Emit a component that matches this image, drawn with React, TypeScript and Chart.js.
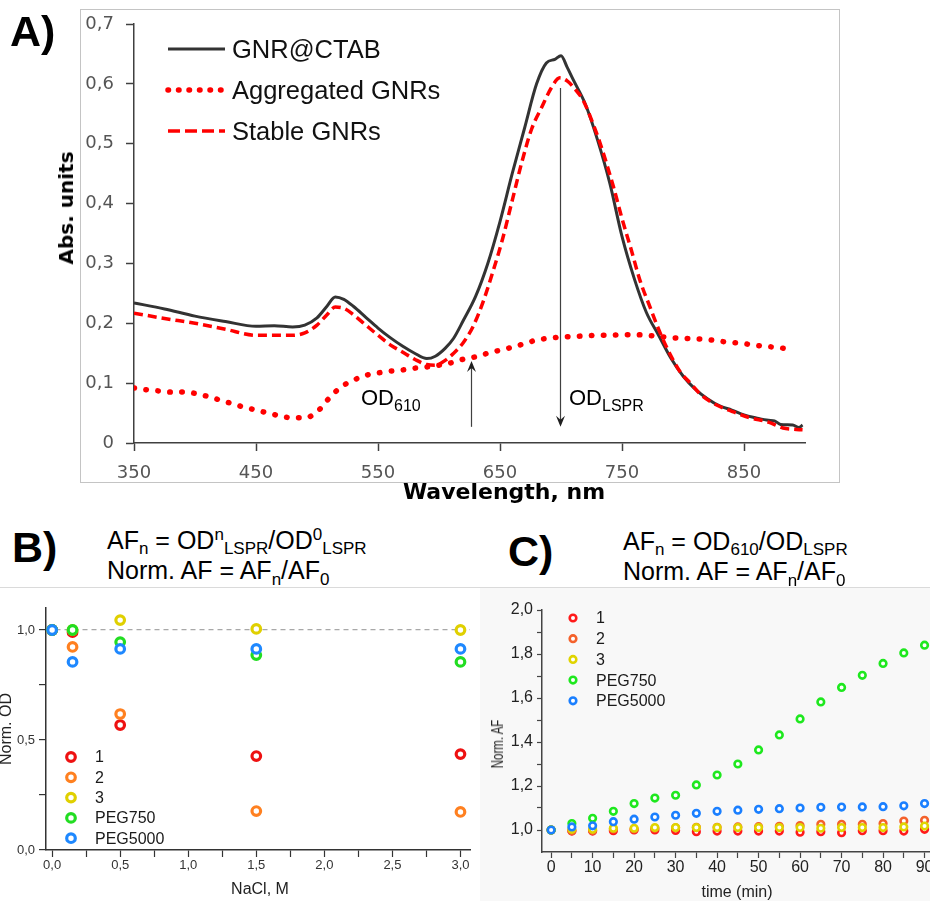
import React, { useEffect, useRef } from 'react';
import { Chart, registerables } from 'chart.js';

Chart.register(...registerables);

const SANS = "'Liberation Sans', Arial, sans-serif";
const WIDE = "'DejaVu Sans', sans-serif";

// ---------- Panel A : spectra ----------
const ctabNm = [350,375,400,425,450,465,480,490,500,508,515,522,530,540,550,560,570,580,590,597,605,612,620,630,640,650,660,670,680,688,695,700,705,710,720,730,740,750,760,770,780,790,800,810,820,830,840,850,860,870,875,880,890,895,898];
const ctabAbs = [0.234,0.224,0.212,0.203,0.195,0.196,0.194,0.197,0.209,0.228,0.244,0.240,0.228,0.210,0.192,0.176,0.162,0.150,0.141,0.145,0.158,0.175,0.205,0.245,0.300,0.370,0.450,0.525,0.600,0.635,0.641,0.647,0.628,0.607,0.566,0.506,0.434,0.345,0.275,0.218,0.180,0.142,0.112,0.090,0.074,0.062,0.055,0.047,0.042,0.038,0.037,0.031,0.030,0.026,0.030];

const stableNm = [350,375,400,425,450,465,480,490,500,508,515,522,530,540,550,560,570,580,590,597,605,612,620,628,636,644,652,660,668,676,684,692,699,705,712,718,725,732,743,750,757,765,773,780,789,798,806,815,828,840,855,870,882,890,898];
const stableAbs = [0.217,0.208,0.200,0.190,0.180,0.180,0.180,0.184,0.197,0.214,0.227,0.225,0.214,0.197,0.180,0.164,0.152,0.140,0.131,0.130,0.138,0.150,0.168,0.195,0.235,0.285,0.340,0.405,0.470,0.525,0.560,0.593,0.610,0.605,0.590,0.573,0.540,0.501,0.428,0.375,0.327,0.270,0.227,0.190,0.150,0.118,0.100,0.080,0.063,0.053,0.042,0.035,0.025,0.023,0.022];

const aggNm = [350,360,370,380,390,400,410,420,430,440,450,460,470,480,490,500,510,520,530,540,550,560,570,580,590,600,610,620,630,640,650,660,670,680,690,700,710,720,730,740,750,760,770,780,790,800,810,820,830,840,850,860,870,880,890];
const aggAbs = [0.092,0.089,0.087,0.085,0.085,0.083,0.078,0.072,0.066,0.060,0.055,0.050,0.045,0.042,0.042,0.052,0.075,0.094,0.105,0.113,0.117,0.120,0.122,0.125,0.127,0.130,0.134,0.140,0.144,0.150,0.155,0.160,0.166,0.172,0.175,0.177,0.178,0.179,0.180,0.180,0.181,0.181,0.180,0.178,0.176,0.175,0.174,0.173,0.170,0.168,0.166,0.163,0.161,0.159,0.155];

const aLabelsSeries = ['GNR@CTAB', 'Aggregated GNRs', 'Stable GNRs'];
const aTicksX = [350, 450, 550, 650, 750, 850];
const aLabelsX = ['350', '450', '550', '650', '750', '850'];
const aTicksY = [0, 0.1, 0.2, 0.3, 0.4, 0.5, 0.6, 0.7];
const aLabelsY = ['0', '0,1', '0,2', '0,3', '0,4', '0,5', '0,6', '0,7'];
const aArrows = [
  { nm: 626, from: 0.027, to: 0.137 },
  { nm: 699, from: 0.593, to: 0.027 },
];

// ---------- Panel B : NaCl ----------
const seriesNames = ['1', '2', '3', 'PEG750', 'PEG5000'];
const naclM = [0, 0.15, 0.5, 1.5, 3.0];
const bS1 = [1.0, 0.99, 0.568, 0.427, 0.436];
const bS2 = [1.0, 0.923, 0.618, 0.177, 0.173];
const bS3 = [1.0, 1.0, 1.045, 1.005, 1.0];
const bPeg750 = [1.0, 1.0, 0.945, 0.886, 0.855];
const bPeg5000 = [1.0, 0.855, 0.914, 0.914, 0.914];
const bTicksX = [0, 0.25, 0.5, 0.75, 1.0, 1.25, 1.5, 1.75, 2.0, 2.25, 2.5, 2.75, 3.0];
const bLabelsX = ['0,0', '', '0,5', '', '1,0', '', '1,5', '', '2,0', '', '2,5', '', '3,0'];
const bTicksY = [0, 0.25, 0.5, 0.75, 1.0];
const bLabelsY = ['0,0', '', '0,5', '', '1,0'];

// ---------- Panel C : time ----------
const timeMin = [0, 5, 10, 15, 20, 25, 30, 35, 40, 45, 50, 55, 60, 65, 70, 75, 80, 85, 90];
const cS1 = [1.0, 0.995, 0.995, 0.997, 1.0, 1.0, 0.998, 0.992, 0.995, 0.995, 0.995, 0.995, 0.99, 0.992, 0.988, 0.997, 0.997, 0.995, 1.003];
const cS2 = [1.0, 0.997, 0.998, 1.005, 1.005, 1.008, 1.01, 1.012, 1.012, 1.014, 1.015, 1.017, 1.02, 1.026, 1.026, 1.026, 1.029, 1.041, 1.044];
const cS3 = [1.0, 1.003, 1.003, 1.008, 1.008, 1.011, 1.011, 1.011, 1.011, 1.011, 1.011, 1.011, 1.011, 1.008, 1.011, 1.011, 1.011, 1.014, 1.018];
const cPeg750 = [1.0, 1.029, 1.053, 1.085, 1.12, 1.145, 1.158, 1.205, 1.25, 1.3, 1.364, 1.432, 1.505, 1.582, 1.648, 1.703, 1.757, 1.805, 1.84];
const cPeg5000 = [1.0, 1.014, 1.019, 1.038, 1.049, 1.059, 1.067, 1.076, 1.085, 1.09, 1.094, 1.097, 1.1, 1.103, 1.104, 1.105, 1.106, 1.11, 1.12];
const cTicksX = [0, 5, 10, 15, 20, 25, 30, 35, 40, 45, 50, 55, 60, 65, 70, 75, 80, 85, 90];
const cLabelsX = ['0', '', '10', '', '20', '', '30', '', '40', '', '50', '', '60', '', '70', '', '80', '', '90'];
const cTicksY = [1.0, 1.1, 1.2, 1.3, 1.4, 1.5, 1.6, 1.7, 1.8, 1.9, 2.0];
const cLabelsY = ['1,0', '', '1,2', '', '1,4', '', '1,6', '', '1,8', '', '2,0'];

const bColors = ['#ee1111', '#ff8020', '#e0d000', '#22dd22', '#1e88ff'];
const cColors = ['#ff1a1a', '#f4612b', '#e0d400', '#1ee81e', '#1a7fff'];

const pts = (xs: number[], ys: number[]) => xs.map((x, i) => ({ x, y: ys[i] }));

const fixedTicks = (values: number[], labels: string[]) => ({
  afterBuildTicks: (scale: any) => {
    scale.ticks = values.map((v) => ({ value: v }));
  },
  callback: (_v: any, i: number) => labels[i] ?? '',
});

// ---------- plugins ----------
const lineLegend = {
  id: 'lineLegend',
  afterDatasetsDraw(chart: any, _a: any, opts: any) {
    const ctx = chart.ctx;
    chart.data.datasets.forEach((ds: any, i: number) => {
      const y = opts.rows[i];
      ctx.save();
      ctx.strokeStyle = ds.borderColor;
      ctx.lineWidth = ds.legendWidth ?? ds.borderWidth;
      ctx.setLineDash(ds.legendDash ?? ds.borderDash ?? []);
      ctx.lineCap = ds.borderCapStyle ?? 'butt';
      ctx.beginPath();
      ctx.moveTo(opts.x0, y);
      ctx.lineTo(opts.x1, y);
      ctx.stroke();
      ctx.setLineDash([]);
      ctx.fillStyle = '#111';
      ctx.font = opts.font;
      ctx.textBaseline = 'alphabetic';
      ctx.textAlign = 'left';
      ctx.fillText(ds.label, opts.textX, y + opts.baseOff);
      ctx.restore();
    });
  },
};

const arrowPlugin = {
  id: 'arrows',
  afterDatasetsDraw(chart: any, _a: any, opts: any) {
    const ctx = chart.ctx;
    const xs = chart.scales.x;
    const ys = chart.scales.y;
    (opts.items || []).forEach((a: any) => {
      const px = Math.round(xs.getPixelForValue(a.nm)) + 0.5;
      const p1 = ys.getPixelForValue(a.from);
      const p2 = ys.getPixelForValue(a.to);
      const back = p2 < p1 ? 1 : -1;
      ctx.save();
      ctx.strokeStyle = '#404040';
      ctx.fillStyle = '#202020';
      ctx.lineWidth = 1.2;
      ctx.beginPath();
      ctx.moveTo(px, p1);
      ctx.lineTo(px, p2 + back * 5);
      ctx.stroke();
      ctx.beginPath();
      ctx.moveTo(px, p2);
      ctx.lineTo(px - 4.5, p2 + back * 11);
      ctx.lineTo(px, p2 + back * 7);
      ctx.lineTo(px + 4.5, p2 + back * 11);
      ctx.closePath();
      ctx.fill();
      ctx.restore();
    });
  },
};

const ringLegend = {
  id: 'ringLegend',
  afterDatasetsDraw(chart: any, _a: any, opts: any) {
    const ctx = chart.ctx;
    ctx.save();
    chart.data.datasets.forEach((ds: any, i: number) => {
      const y = opts.y0 + i * opts.dy;
      ctx.beginPath();
      ctx.arc(opts.x, y, opts.r, 0, Math.PI * 2);
      ctx.fillStyle = '#ffffff';
      ctx.fill();
      ctx.lineWidth = opts.lw;
      ctx.strokeStyle = ds.borderColor;
      ctx.stroke();
      ctx.fillStyle = '#1a1a1a';
      ctx.font = opts.font;
      ctx.textBaseline = 'middle';
      ctx.textAlign = 'left';
      ctx.fillText(ds.label, opts.textX, y + 1);
    });
    ctx.restore();
  },
};

// ---------- configs ----------
function configA(): any {
  const fx = fixedTicks(aTicksX, aLabelsX);
  const fy = fixedTicks(aTicksY, aLabelsY);
  const axisCol = '#404040';
  return {
    type: 'line',
    data: {
      datasets: [
        { label: aLabelsSeries[0], data: pts(ctabNm, ctabAbs), borderColor: '#333333', borderWidth: 3, pointRadius: 0, cubicInterpolationMode: 'monotone', order: 3, fill: false },
        { label: aLabelsSeries[1], data: pts(aggNm, aggAbs), borderColor: '#ff0000', borderWidth: 5.5, borderDash: [0.5, 11.5], borderCapStyle: 'round', legendDash: [0.5, 10], pointRadius: 0, cubicInterpolationMode: 'monotone', order: 1, fill: false },
        { label: aLabelsSeries[2], data: pts(stableNm, stableAbs), borderColor: '#ff0000', borderWidth: 3.5, borderDash: [9, 5], legendDash: [12, 5], pointRadius: 0, cubicInterpolationMode: 'monotone', order: 2, fill: false },
      ],
    },
    options: {
      responsive: false,
      animation: false,
      events: [],
      layout: { padding: { left: 0, top: 24, right: 125, bottom: 0 } },
      plugins: {
        legend: { display: false },
        tooltip: { enabled: false },
        lineLegend: { x0: 168, x1: 225, rows: [49, 90, 131], textX: 232, baseOff: 9, font: `25.5px ${SANS}` },
        arrows: { items: aArrows },
      },
      scales: {
        x: {
          type: 'linear', min: 350, max: 900,
          afterFit: (s: any) => { s.height = 62; },
          afterBuildTicks: fx.afterBuildTicks,
          grid: { drawOnChartArea: false, tickLength: 8, tickColor: axisCol, tickWidth: 1.5 },
          border: { color: axisCol, width: 1.5 },
          ticks: { callback: fx.callback, autoSkip: false, maxRotation: 0, font: { family: WIDE, size: 18 }, color: '#555555', padding: 12 },
        },
        y: {
          type: 'linear', min: 0, max: 0.7,
          afterFit: (s: any) => { s.width = 134; },
          afterBuildTicks: fy.afterBuildTicks,
          grid: { drawOnChartArea: false, tickLength: 8, tickColor: axisCol, tickWidth: 1.5 },
          border: { color: axisCol, width: 1.5 },
          ticks: { callback: fy.callback, autoSkip: false, font: { family: WIDE, size: 18 }, color: '#555555', padding: 12 },
        },
      },
    },
    plugins: [lineLegend, arrowPlugin],
  };
}

function scatterSets(xs: number[], series: number[][], colors: string[], r: number, bw: number) {
  return series.map((ys, i) => ({
    label: seriesNames[i],
    data: pts(xs, ys),
    borderColor: colors[i],
    pointBorderColor: colors[i],
    backgroundColor: '#ffffff',
    pointBackgroundColor: '#ffffff',
    pointRadius: r,
    pointBorderWidth: bw,
    showLine: false,
    order: 5 - i,
  }));
}

function configB(): any {
  const fx = fixedTicks(bTicksX, bLabelsX);
  const fy = fixedTicks(bTicksY, bLabelsY);
  const axisCol = '#333333';
  return {
    type: 'scatter',
    data: { datasets: scatterSets(naclM, [bS1, bS2, bS3, bPeg750, bPeg5000], bColors, 4.3, 3.2) },
    options: {
      responsive: false,
      animation: false,
      events: [],
      layout: { padding: { left: 0, top: 18, right: 10, bottom: 0 } },
      plugins: {
        legend: { display: false },
        tooltip: { enabled: false },
        ringLegend: { x: 71, y0: 167, dy: 20.3, r: 4.3, lw: 3.2, textX: 95, font: `16px ${SANS}` },
      },
      scales: {
        x: {
          type: 'linear', min: -0.045, max: 3.07,
          afterFit: (s: any) => { s.height = 51; },
          afterBuildTicks: fx.afterBuildTicks,
          grid: { drawOnChartArea: false, tickLength: 7, tickColor: axisCol, tickWidth: 1.2 },
          border: { color: axisCol, width: 1.5 },
          ticks: { callback: fx.callback, autoSkip: false, maxRotation: 0, font: { family: SANS, size: 13 }, color: '#333', padding: 1 },
        },
        y: {
          type: 'linear', min: 0, max: 1.1,
          afterFit: (s: any) => { s.width = 46; },
          afterBuildTicks: fy.afterBuildTicks,
          grid: {
            drawOnChartArea: true,
            color: (c: any) => (c.tick && Math.abs(c.tick.value - 1) < 1e-6 ? '#a8a8a8' : 'rgba(0,0,0,0)'),
            lineWidth: 1.2,
            tickLength: 7, tickColor: axisCol, tickWidth: 1.2,
          },
          border: { color: axisCol, width: 1.5, dash: [5, 4] },
          ticks: { callback: fy.callback, autoSkip: false, font: { family: SANS, size: 13 }, color: '#333', padding: 4 },
        },
      },
    },
    plugins: [ringLegend],
  };
}

function configC(): any {
  const fx = fixedTicks(cTicksX, cLabelsX);
  const fy = fixedTicks(cTicksY, cLabelsY);
  const axisCol = '#444444';
  return {
    type: 'scatter',
    data: { datasets: scatterSets(timeMin, [cS1, cS2, cS3, cPeg750, cPeg5000], cColors, 3.3, 2.6) },
    options: {
      responsive: false,
      animation: false,
      events: [],
      layout: { padding: { left: 0, top: 20, right: 13, bottom: 0 } },
      plugins: {
        legend: { display: false },
        tooltip: { enabled: false },
        ringLegend: { x: 103, y0: 28, dy: 20.7, r: 3.3, lw: 2.6, textX: 126, font: `16px ${SANS}` },
      },
      scales: {
        x: {
          type: 'linear', min: -2.2, max: 93,
          afterFit: (s: any) => { s.height = 49; },
          afterBuildTicks: fx.afterBuildTicks,
          grid: { drawOnChartArea: false, tickLength: 6, tickColor: axisCol, tickWidth: 1.2 },
          border: { color: axisCol, width: 1.5 },
          ticks: { callback: fx.callback, autoSkip: false, maxRotation: 0, font: { family: SANS, size: 16 }, color: '#222', padding: 0 },
        },
        y: {
          type: 'linear', min: 0.9, max: 2.0,
          afterFit: (s: any) => { s.width = 72; },
          afterBuildTicks: fy.afterBuildTicks,
          grid: { drawOnChartArea: false, tickLength: 5, tickColor: axisCol, tickWidth: 1.2 },
          border: { color: axisCol, width: 1.5 },
          ticks: { callback: fy.callback, autoSkip: false, font: { family: SANS, size: 16 }, color: '#222', padding: 4 },
        },
      },
    },
    plugins: [ringLegend],
  };
}

function ChartCanvas({ make, width, height, style }: { make: () => any; width: number; height: number; style?: any }) {
  const ref = useRef<HTMLCanvasElement | null>(null);
  useEffect(() => {
    if (!ref.current) return;
    const chart = new Chart(ref.current, make());
    return () => chart.destroy();
  }, []);
  return <canvas ref={ref} width={width} height={height} style={{ position: 'absolute', left: 0, top: 0, ...style }} />;
}

const abs = (x: number, y: number, extra: any = {}) => ({ position: 'absolute' as const, left: x, top: y, whiteSpace: 'nowrap' as const, lineHeight: 1, ...extra });

const Sub = ({ t, size = 17, dy = 5 }: { t: string; size?: number; dy?: number }) => (
  <span style={{ fontSize: size, position: 'relative', top: dy }}>{t}</span>
);
const Sup = ({ t, size = 17 }: { t: string; size?: number }) => (
  <span style={{ fontSize: size, position: 'relative', top: -9 }}>{t}</span>
);

const Centered = ({ x, y, rotate, squeeze, children, style }: any) => (
  <div
    style={{
      position: 'absolute', left: x, top: y, whiteSpace: 'nowrap', lineHeight: 1,
      transform: `translate(-50%, -50%)${rotate ? ' rotate(-90deg)' : ''}${squeeze ? ` scaleX(${squeeze})` : ''}`,
      ...(style || {}),
    }}
  >
    {children}
  </div>
);

export default function App() {
  return (
    <div style={{ position: 'absolute', left: 0, top: 0, width: 930, height: 901, overflow: 'hidden', background: '#ffffff', fontFamily: SANS, color: '#000' }}>
      {/* Panel A */}
      <div style={{ position: 'absolute', left: 80, top: 9, width: 760, height: 474, boxSizing: 'border-box', border: '1px solid #c4c4c4' }} />
      <ChartCanvas make={configA} width={930} height={505} />
      <div style={abs(10, 10, { fontSize: 43, fontWeight: 'bold', lineHeight: '43px' })}>A)</div>
      <Centered x={66} y={208} rotate style={{ fontFamily: WIDE, fontWeight: 'bold', fontSize: 20 }}>Abs. units</Centered>
      <Centered x={504} y={492} style={{ fontFamily: WIDE, fontWeight: 'bold', fontSize: 22 }}>Wavelength, nm</Centered>
      <div style={abs(361, 387, { fontSize: 22, lineHeight: '22px' })}>OD<Sub t="610" size={16} dy={6} /></div>
      <div style={abs(569, 387, { fontSize: 22, lineHeight: '22px' })}>OD<Sub t="LSPR" size={16} dy={6} /></div>

      {/* separator */}
      <div style={{ position: 'absolute', left: 0, top: 587, width: 930, height: 1, background: '#dadada' }} />

      {/* Panel B */}
      <div style={abs(12, 526, { fontSize: 43, fontWeight: 'bold', lineHeight: '43px' })}>B)</div>
      <div style={abs(107, 528, { fontSize: 25, lineHeight: '25px' })}>
        AF<Sub t="n" /> = OD<Sup t="n" /><Sub t="LSPR" />/OD<Sup t="0" /><Sub t="LSPR" />
      </div>
      <div style={abs(107, 558, { fontSize: 25, lineHeight: '25px' })}>
        Norm. AF = AF<Sub t="n" dy={6} />/AF<Sub t="0" dy={6} />
      </div>
      <div style={{ position: 'absolute', left: 0, top: 590, width: 474, height: 311, overflow: 'hidden' }}>
        <ChartCanvas make={configB} width={480} height={311} />
      </div>
      <Centered x={6} y={729} rotate style={{ fontSize: 16, color: '#222' }}>Norm. OD</Centered>
      <Centered x={260} y={889} style={{ fontSize: 16, color: '#222' }}>NaCl, M</Centered>

      {/* Panel C */}
      <div style={{ position: 'absolute', left: 480, top: 588, width: 450, height: 313, background: '#f8f8f8' }} />
      <div style={abs(508, 530, { fontSize: 43, fontWeight: 'bold', lineHeight: '43px' })}>C)</div>
      <div style={abs(623, 529, { fontSize: 25, lineHeight: '25px' })}>
        AF<Sub t="n" /> = OD<Sub t="610" />/OD<Sub t="LSPR" />
      </div>
      <div style={abs(623, 559, { fontSize: 25, lineHeight: '25px' })}>
        Norm. AF = AF<Sub t="n" dy={6} />/AF<Sub t="0" dy={6} />
      </div>
      <div style={{ position: 'absolute', left: 470, top: 590, width: 460, height: 311, overflow: 'hidden' }}>
        <ChartCanvas make={configC} width={480} height={311} />
      </div>
      <Centered x={498} y={744} rotate squeeze={0.72} style={{ fontSize: 16, color: '#222' }}>Norm. AF</Centered>
      <Centered x={737} y={892} style={{ fontSize: 16, color: '#222' }}>time (min)</Centered>
    </div>
  );
}
